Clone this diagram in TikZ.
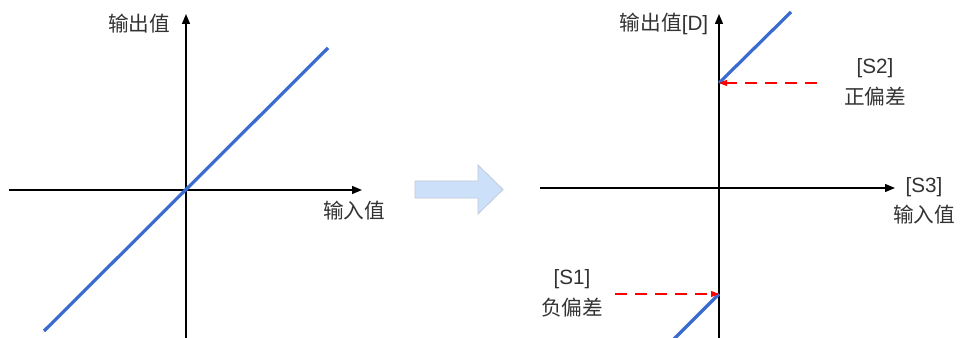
\documentclass[tikz,border=0pt]{standalone}
\usepackage{fontspec}
\setmainfont{Liberation Sans}
\newfontfamily\cjk{Noto Sans CJK SC}
\usetikzlibrary{arrows.meta}
\definecolor{txt}{HTML}{333333}
\definecolor{lineblue}{HTML}{3A6BD0}
\definecolor{arrfill}{HTML}{CCE0FA}
\definecolor{arrdraw}{HTML}{BFC9D9}
\tikzset{
  axis/.style={line width=1.3pt*0.75, black, -{Triangle[length=7.5pt,width=6pt]}},
  plotline/.style={line width=2.4pt, lineblue},
  offset/.style={red, line width=0.8pt, dash pattern=on 9pt off 6pt, -{Triangle[length=6pt,width=4.5pt]}},
  lab/.style={text=txt, font=\fontsize{15.5pt}{17pt}\selectfont, inner sep=0pt, align=center}
}
\begin{document}
\begin{tikzpicture}[x=0.75pt,y=-0.75pt]
\useasboundingbox (0,0) rectangle (960,338);
% left diagram
\coordinate (LxS) at (9,190);
\coordinate (LxE) at (362,190);
\coordinate (LyS) at (186,338);
\coordinate (LyE) at (186,14);
\coordinate (LbA) at (44,331);
\coordinate (LbB) at (328,48);
\draw[axis] (LxS) -- (LxE);
\draw[axis] (LyS) -- (LyE);
\draw[plotline] (LbA) -- (LbB);
\node[lab] (Lout) at (139,24) {\cjk 输出值};
\node[lab] (Lin) at (354,211) {\cjk 输入值};
% block arrow
\draw[fill=arrfill, draw=arrdraw, line width=0.6pt] (415,181) -- (478,181) -- (478,165) -- (503,189.5) -- (478,214) -- (478,198) -- (415,198) -- cycle;
% right diagram
\coordinate (RxS) at (540,188);
\coordinate (RxE) at (895,188);
\coordinate (RyS) at (719,338);
\coordinate (RyE) at (719,14);
\coordinate (Rp) at (719,83);
\coordinate (Rn) at (719,294);
\coordinate (RbT) at (791,12);
\coordinate (RbB) at (674,339);
\coordinate (S2s) at (817,83);
\coordinate (S1s) at (615,294);
\draw[axis] (RxS) -- (RxE);
\draw[axis] (RyS) -- (RyE);
\draw[plotline] (Rp) -- (RbT);
\draw[plotline] (Rn) -- (RbB);
\draw[offset] (S2s) -- (Rp);
\draw[offset] (S1s) -- (Rn);
\node[lab] (Rout) at (664,24) {\cjk 输出值\rmfamily[D]};
\node[lab] (S2) at (875,68) {[S2]};
\node[lab] (S2t) at (875,97) {\cjk 正偏差};
\node[lab] (S3) at (924,187) {[S3]};
\node[lab] (S3t) at (924,215) {\cjk 输入值};
\node[lab] (S1) at (572,279) {[S1]};
\node[lab] (S1t) at (572,308) {\cjk 负偏差};
\end{tikzpicture}
\end{document}
